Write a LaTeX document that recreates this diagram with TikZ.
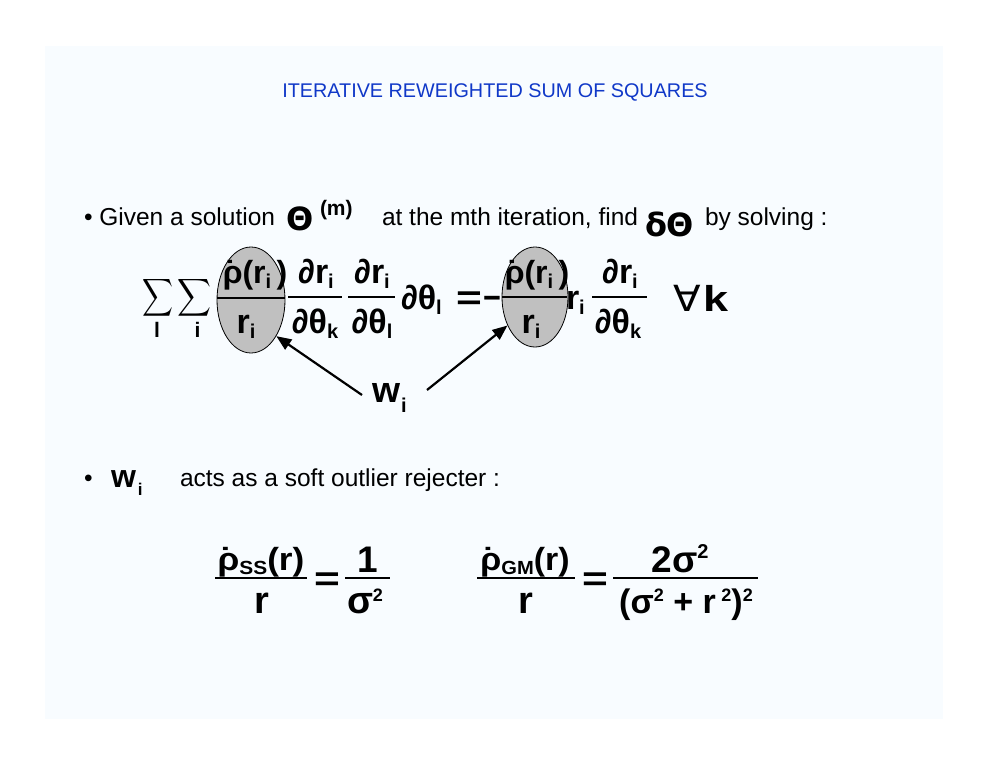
\documentclass[tikz,border=0pt]{standalone}
\usepackage{graphicx}
\usepackage{fontspec}
\setmainfont{Liberation Sans}
\newfontfamily\dvfont{DejaVu Sans}
\usetikzlibrary{shapes.geometric,arrows.meta}
\newcommand{\fsz}[1]{\fontsize{#1}{#1}\selectfont}
\newcommand{\rhod}{\makebox[0pt][l]{\hspace{0.06em}˙}ρ}
\newcommand{\lo}[1]{\raisebox{-5pt}{\fsz{20}#1}}
\newcommand{\up}[1]{\raisebox{12pt}{\fsz{18}#1}}
\newcommand{\eqs}{\scalebox{1.3}[1]{=}}
\definecolor{bgc}{RGB}{248,252,255}
\definecolor{titleblue}{RGB}{16,56,200}
\definecolor{ellgray}{RGB}{192,192,192}
\tikzset{
  txt/.style={inner sep=0pt, outer sep=0pt, anchor=base west, font=\fsz{24.5}},
  eqn/.style={inner sep=0pt, outer sep=0pt, anchor=base, font=\bfseries\fsz{34}},
  fbar/.style={line width=1.4pt},
  ell/.style={ellipse, draw=black, line width=0.8pt, fill=ellgray, inner sep=0pt},
  arr/.style={line width=2.2pt, -{Triangle[length=15pt,width=12pt]}}
}
\begin{document}
\begin{tikzpicture}[x=1pt,y=-1pt]
\useasboundingbox (0,0) rectangle (990,765);
\fill[bgc] (45,46) rectangle (943,719);
% title
\node[anchor=base, inner sep=0pt, font=\fsz{19.8}, text=titleblue] (title) at (495,98) {ITERATIVE REWEIGHTED SUM OF SQUARES};
% line 1
\node[txt] (l1a) at (84,225) {• Given a solution};
\node[eqn, anchor=base west, font=\dvfont\bfseries\fsz{32}] (theta) at (286,230) {Θ};
\node[eqn, anchor=base west, font=\bfseries\fsz{21}] (mm) at (320,215.5) {(m)};
\node[txt] (l1b) at (382,225) {at the mth iteration, find};
\node[eqn, anchor=base west, font=\dvfont\bfseries\fsz{32}] (dth) at (645,236) {δΘ};
\node[txt] (l1c) at (705,225) {by solving :};
% ellipses
\node[ell, minimum width=68pt, minimum height=106pt] (e1) at (251,300) {};
\node[ell, minimum width=66pt, minimum height=100pt] (e2) at (535,297) {};
% sums
\node[inner sep=0pt] (s1) at (157.5,297.5) {\resizebox*{31pt}{42pt}{$\displaystyle\sum$}};
\node[inner sep=0pt] (s2) at (195,297.5) {\resizebox*{34pt}{42pt}{$\displaystyle\sum$}};
\node[eqn, font=\bfseries\fsz{21}] (ll) at (157,337) {l};
\node[eqn, font=\bfseries\fsz{21}] (li) at (197.5,337) {i};
% fraction in ellipse 1
\node[eqn, font=\bfseries\fsz{32}] (n1) at (255,283) {\rhod(r\lo{i}\,)};
\draw[fbar] (217,298) -- (285,298);
\node[eqn] (d1) at (246,333) {r\lo{i}};
% frac 2
\node[eqn] (n2) at (316,283) {∂r\lo{i}};
\draw[fbar] (288,297) -- (342,297);
\node[eqn] (d2) at (315,333) {∂θ\lo{k}};
% frac 3
\node[eqn] (n3) at (372,283) {∂r\lo{i}};
\draw[fbar] (348,297) -- (395,297);
\node[eqn] (d3) at (372,333) {∂θ\lo{l}};
% dtheta_l = -
\node[eqn, anchor=base west] (dtl) at (401,309) {∂θ\lo{l}};
\node[eqn] (eq1) at (469,309) {\eqs};
\node[eqn] (minus) at (492,309) {\scalebox{0.9}[1]{−}};
% fraction in ellipse 2
\node[eqn, font=\bfseries\fsz{32}] (n4) at (537,283) {\rhod(r\lo{i}\,)};
\draw[fbar] (502,297) -- (567,297);
\node[eqn] (d4) at (531,333) {r\lo{i}};
\node[eqn, anchor=base west] (ri) at (566,309) {r\lo{i}};
% frac 5
\node[eqn] (n5) at (620,283) {∂r\lo{i}};
\draw[fbar] (592,297) -- (647,297);
\node[eqn] (d5) at (618,333) {∂θ\lo{k}};
% forall k
\node[eqn, anchor=base west, font=\bfseries\fsz{36}] (fk) at (673,311) {\scalebox{1.12}[1]{\dvfont\mdseries ∀}\hspace{3pt}\scalebox{1.25}[1]{k}};
% w_i with arrows
\node[eqn, anchor=base west, font=\bfseries\fsz{36}] (w) at (372,402) {w\raisebox{-10pt}{\fsz{20}\hspace{1pt}i}};
\coordinate (t1) at (362,395);
\coordinate (t2) at (427,390);
\draw[arr] (t1) -- (e1.-55);
\draw[arr] (t2) -- (e2.-134);
% bullet 2
\node[txt] (b2) at (84,486) {•};
\node[eqn, anchor=base west, font=\bfseries\fsz{32}] (w2) at (111,487) {w\raisebox{-8pt}{\fsz{17}\hspace{2pt}i}};
\node[txt] (acts) at (180,486) {acts as a soft outlier rejecter :};
% formula SS
\node[eqn, font=\bfseries\fsz{32}] (fn1) at (261,570) {\scalebox{1.1}[1]{\rhod\raisebox{-4pt}{\fsz{19}SS}(r)}};
\draw[fbar] (215,578) -- (307,578);
\node[eqn, font=\bfseries\fsz{38}] (fd1) at (262,613) {r};
\node[eqn] (eq2) at (327,590) {\eqs};
\node[eqn, font=\bfseries\fsz{37}] (fn2) at (368,572) {1};
\draw[fbar] (345,578) -- (390,578);
\node[eqn, font=\bfseries\fsz{38}] (fd2) at (365,613) {σ\up{2}};
% formula GM
\node[eqn, font=\bfseries\fsz{32}] (fn3) at (525,570) {\scalebox{1.06}[1]{\rhod\raisebox{-4pt}{\fsz{19}GM}(r)}};
\draw[fbar] (477,578) -- (575,578);
\node[eqn, font=\bfseries\fsz{38}] (fd3) at (526,613) {r};
\node[eqn] (eq3) at (595,590) {\eqs};
\node[eqn, font=\bfseries\fsz{37}] (fn4) at (680,572) {2σ\raisebox{14pt}{\fsz{20}2}};
\draw[fbar] (613,578) -- (758,578);
\node[eqn, font=\bfseries\fsz{34}] (fd4) at (686,613) {(σ\up{2} + r\,\up{2})\up{2}};
\end{tikzpicture}
\end{document}
